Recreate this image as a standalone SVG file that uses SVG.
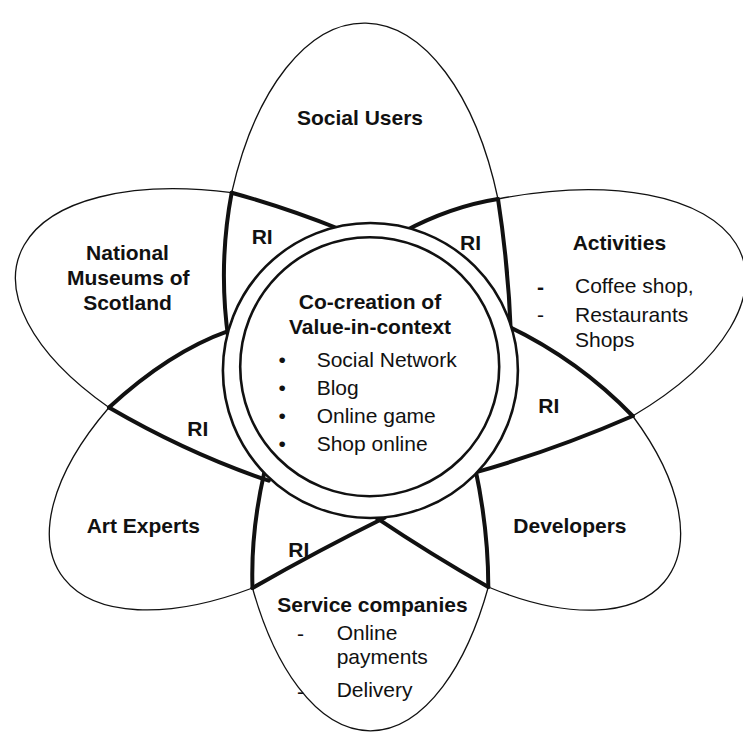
<svg xmlns="http://www.w3.org/2000/svg" width="743" height="734" viewBox="0 0 743 734">
<style>
text{font-family:"Liberation Sans",Arial,sans-serif;font-size:21px;fill:#111}
.b{font-weight:bold}
.petal{fill:none;stroke:#111;stroke-width:1.3}
.lens{fill:none;stroke:#111;stroke-width:4;stroke-linecap:round}
.ring{fill:#fff;stroke:#111;stroke-width:2.6}
.mid{text-anchor:middle}
</style>
<rect width="743" height="734" fill="#fff"/>
<g id="petals">
<g id="social-users">
<path class="petal" d="M231.7,192.7 A145,286 0 0 1 498,199"/>
<text class="b mid" x="360" y="125">Social Users</text>
</g>
<g id="activities">
<path class="petal" d="M498,199 A275,132 -17 0 1 632.7,416"/>
<text class="b" x="572.7" y="250">Activities</text>
<text class="b" x="537" y="294">-</text>
<text x="575" y="293.3">Coffee shop,</text>
<text x="537" y="322">-</text>
<text x="575" y="321.7">Restaurants</text>
<text x="575" y="346.7">Shops</text>
</g>
<g id="developers">
<path class="petal" d="M632.7,416 A250,127 37 0 1 488.3,587"/>
<text class="b" x="513.3" y="532.7">Developers</text>
</g>
<g id="service-companies">
<path class="petal" d="M488.3,587 A137,292 0 0 1 252.5,588"/>
<text class="b" x="277.3" y="611.7">Service companies</text>
<text x="297" y="640.5">-</text>
<text x="336.7" y="640">Online</text>
<text x="336.7" y="664">payments</text>
<text x="297" y="698.5">-</text>
<text x="336.7" y="697">Delivery</text>
</g>
<g id="art-experts">
<path class="petal" d="M252.5,588 A260,129 -33.5 0 1 109,407.5"/>
<text class="b" x="86.7" y="532.7">Art Experts</text>
</g>
<g id="national-museums">
<path class="petal" d="M109,407.5 A290,137 18 0 1 231.7,192.7"/>
<text class="b mid" x="127.5" y="260">National</text>
<text class="b mid" x="128.3" y="285">Museums of</text>
<text class="b mid" x="127.5" y="310">Scotland</text>
</g>
</g>
<g id="connectors">
<g id="ri-social-museums">
<path class="lens" d="M231.7,192.7 Q217.9,265.7 228.5,340"/>
<path class="lens" d="M231.7,192.7 Q286.3,207.7 340.6,229.5"/>
<text class="b" x="251.7" y="244">RI</text>
</g>
<g id="ri-social-activities">
<path class="lens" d="M498,199 Q450.5,206.5 403,232"/>
<path class="lens" d="M498,199 Q508.5,266.5 511,336"/>
<text class="b" x="460" y="250">RI</text>
</g>
<g id="ri-activities-developers">
<path class="lens" d="M632.7,416 Q551.9,451.2 471.1,473.6"/>
<path class="lens" d="M632.7,416 Q578.05,359.45 506.4,325.5"/>
<text class="b" x="538.3" y="412.7">RI</text>
</g>
<g id="overlap-developers-service">
<path class="lens" d="M488.3,587 Q432,555.2 375.7,517.4"/>
<path class="lens" d="M488.3,587 Q488.35,529 475,467"/>
</g>
<g id="ri-service-art">
<path class="lens" d="M252.5,588 Q250.6,532.3 264.3,472.4"/>
<path class="lens" d="M252.5,588 Q318.5,550.4 384.5,517.8"/>
<text class="b" x="288.3" y="557.3">RI</text>
</g>
<g id="ri-art-museums">
<path class="lens" d="M109,407.5 Q168.85,352.05 228.7,330.8"/>
<path class="lens" d="M109,407.5 Q188.9,453.9 268.8,480.7"/>
<text class="b" x="187.3" y="436">RI</text>
</g>
</g>
<g id="co-creation">
<circle class="ring" cx="370.4" cy="370.5" r="147.5"/>
<circle class="ring" cx="369.7" cy="366.7" r="129.5"/>
<text class="b mid" x="370" y="308.5">Co-creation of</text>
<text class="b mid" x="370" y="333.5">Value-in-context</text>
<text x="278.5" y="366.5">•</text>
<text x="316.7" y="366.5">Social Network</text>
<text x="278.5" y="394.5">•</text>
<text x="316.7" y="394.5">Blog</text>
<text x="278.5" y="422.5">•</text>
<text x="316.7" y="422.5">Online game</text>
<text x="278.5" y="451">•</text>
<text x="316.7" y="451">Shop online</text>
</g>
</svg>
